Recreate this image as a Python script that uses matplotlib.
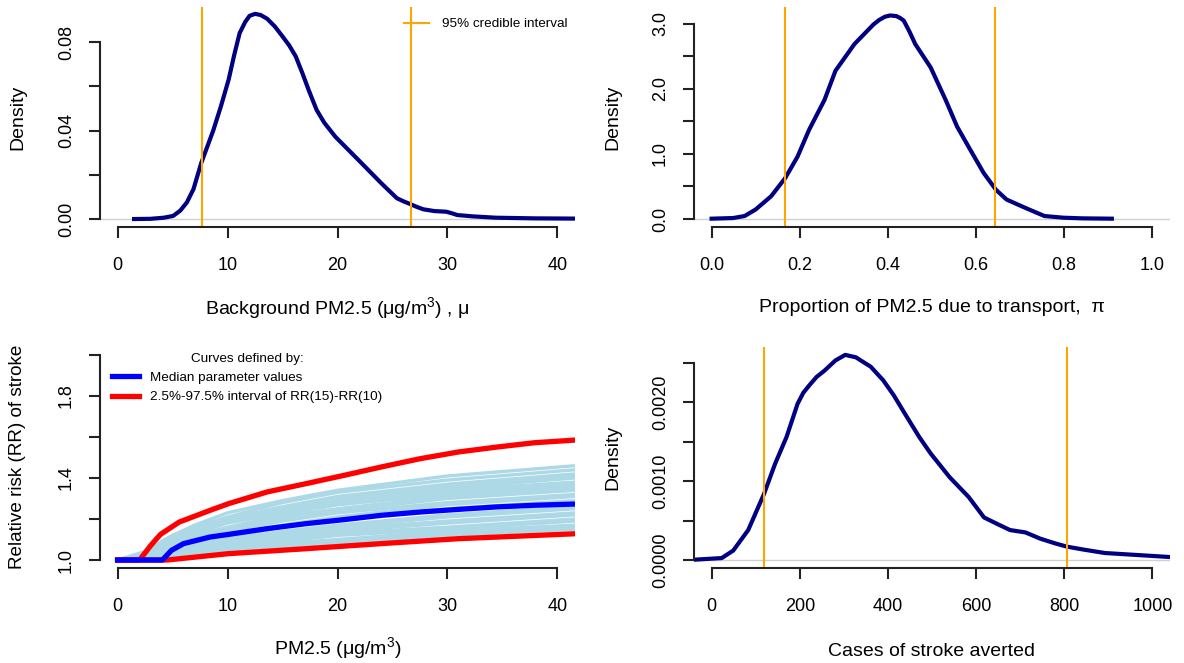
import matplotlib
matplotlib.use("Agg")
import matplotlib.pyplot as plt
from matplotlib.ticker import FixedLocator, FixedFormatter

plt.rcParams['font.family'] = ['Liberation Sans', 'DejaVu Sans']
plt.rcParams['mathtext.fontset'] = 'custom'
plt.rcParams['mathtext.rm'] = 'Liberation Sans'
plt.rcParams['mathtext.it'] = 'Liberation Sans:italic'

# ---------------- data ----------------
# Panel 1: background PM2.5 posterior density
bg_x = [1.5, 3.0, 4.2, 5.05, 5.7, 6.3, 6.9, 7.6, 8.7, 9.4, 10.1, 10.6, 11.1, 11.6, 12.0, 12.5,
        13.0, 13.6, 14.3, 15.0, 15.6, 16.2, 16.8, 17.4, 18.1, 18.8, 19.8, 21.9, 24.0, 25.4,
        26.0, 26.6, 27.2, 27.8, 28.8, 29.9, 30.4, 30.9, 32.3, 34.4, 38.0, 41.6]
bg_d = [0.0, 0.0001, 0.0006, 0.0014, 0.0038, 0.0075, 0.0135, 0.0252, 0.040, 0.051, 0.063,
        0.074, 0.084, 0.089, 0.0918, 0.0927, 0.0922, 0.0905, 0.0870, 0.0825, 0.0785, 0.0735,
        0.066, 0.058, 0.0493, 0.0435, 0.0372, 0.0267, 0.0161, 0.0094, 0.0080, 0.0068, 0.0055,
        0.0044, 0.0036, 0.0033, 0.0026, 0.0018, 0.0012, 0.0006, 0.0003, 0.0002]
bg_ci = [7.7, 26.7]

# Panel 2: proportion due to transport
tp_x = [0.0, 0.049, 0.075, 0.10, 0.135, 0.167, 0.195, 0.221, 0.256, 0.281, 0.324, 0.367, 0.38,
        0.393, 0.405, 0.419, 0.428, 0.436, 0.449, 0.462, 0.497, 0.531, 0.557, 0.583, 0.617,
        0.645, 0.669, 0.712, 0.755, 0.798, 0.841, 0.908]
tp_d = [0.005, 0.015, 0.046, 0.147, 0.35, 0.63, 0.96, 1.37, 1.83, 2.28, 2.69, 2.99, 3.06,
        3.11, 3.13, 3.12, 3.09, 3.05, 2.88, 2.69, 2.33, 1.83, 1.42, 1.11, 0.71, 0.45, 0.30,
        0.17, 0.046, 0.02, 0.01, 0.005]
tp_ci = [0.167, 0.644]

# Panel 3: relative risk curves
rr_x = [0, 3, 4, 5, 7, 10, 15, 20, 30, 41.6]
rr_sample = [
    [1.0, 1.04, 1.09, 1.12, 1.17, 1.23, 1.29, 1.34, 1.41, 1.46],
    [1.0, 1.03, 1.08, 1.11, 1.16, 1.21, 1.28, 1.33, 1.39, 1.44],
    [1.0, 1.02, 1.07, 1.10, 1.15, 1.20, 1.26, 1.31, 1.37, 1.42],
    [1.0, 1.00, 1.06, 1.10, 1.15, 1.19, 1.25, 1.30, 1.36, 1.41],
    [1.0, 1.01, 1.05, 1.09, 1.14, 1.19, 1.25, 1.29, 1.35, 1.40],
    [1.0, 1.00, 1.05, 1.08, 1.13, 1.18, 1.23, 1.28, 1.34, 1.38],
    [1.0, 1.00, 1.04, 1.08, 1.12, 1.16, 1.22, 1.27, 1.33, 1.37],
    [1.0, 1.05, 1.09, 1.12, 1.16, 1.20, 1.24, 1.27, 1.32, 1.36],
    [1.0, 1.00, 1.04, 1.07, 1.11, 1.15, 1.21, 1.25, 1.31, 1.35],
    [1.0, 1.00, 1.03, 1.06, 1.10, 1.14, 1.20, 1.24, 1.30, 1.34],
    [1.0, 1.00, 1.03, 1.06, 1.10, 1.14, 1.19, 1.23, 1.28, 1.32],
    [1.0, 1.00, 1.02, 1.05, 1.08, 1.12, 1.17, 1.21, 1.27, 1.31],
    [1.0, 1.00, 1.02, 1.05, 1.08, 1.11, 1.16, 1.20, 1.25, 1.29],
    [1.0, 1.00, 1.01, 1.04, 1.07, 1.10, 1.14, 1.17, 1.22, 1.26],
    [1.0, 1.00, 1.01, 1.04, 1.06, 1.09, 1.13, 1.16, 1.21, 1.25],
    [1.0, 1.00, 1.00, 1.03, 1.05, 1.08, 1.12, 1.15, 1.19, 1.23],
    [1.0, 1.00, 1.00, 1.02, 1.05, 1.07, 1.11, 1.14, 1.18, 1.22],
    [1.0, 1.00, 1.00, 1.02, 1.04, 1.06, 1.10, 1.13, 1.16, 1.20],
    [1.0, 1.00, 1.00, 1.02, 1.04, 1.06, 1.09, 1.12, 1.15, 1.19],
    [1.0, 1.00, 1.00, 1.01, 1.03, 1.05, 1.08, 1.10, 1.14, 1.17],
    [1.0, 1.00, 1.00, 1.01, 1.03, 1.04, 1.07, 1.09, 1.13, 1.16],
    [1.0, 1.00, 1.00, 1.01, 1.02, 1.04, 1.06, 1.08, 1.12, 1.15],
]
rr_up_x = [0, 2.0, 3.0, 3.9, 5.6, 8.4, 10.1, 13.6, 17.1, 20.6, 24.0, 27.5, 31.0, 34.5, 37.9, 41.6]
rr_up = [1.0, 1.0, 1.07, 1.125, 1.185, 1.242, 1.275, 1.332, 1.372, 1.413, 1.454, 1.494, 1.527,
         1.551, 1.572, 1.585]
rr_med_x = [0, 4.07, 4.9, 6.0, 8.4, 10.1, 13.6, 17.1, 20.6, 24.0, 27.5, 31.0, 34.5, 37.9, 41.6]
rr_med = [1.0, 1.0, 1.047, 1.08, 1.112, 1.125, 1.153, 1.177, 1.197, 1.218, 1.234, 1.247, 1.259,
          1.267, 1.273]
rr_lo_x = [0, 4.5, 10.1, 17.1, 24.0, 31.0, 41.6]
rr_lo = [1.0, 1.0, 1.031, 1.055, 1.08, 1.104, 1.128]

# Panel 4: cases of stroke averted
cs_x = [-40, 23, 49, 83, 119, 144, 170, 195, 208, 221, 238, 256, 281, 303, 327, 361, 389, 413,
        439, 471, 497, 540, 583, 618, 647, 677, 712, 746, 780, 806, 841, 892, 953, 1040]
cs_d = [0.000004, 0.000025, 0.00012, 0.00038, 0.00084, 0.00122, 0.00156, 0.00198, 0.00212,
        0.00221, 0.00232, 0.0024, 0.00253, 0.0026, 0.00257, 0.00245, 0.00228, 0.00209, 0.00185,
        0.00156, 0.00135, 0.00105, 0.0008, 0.00054, 0.00046, 0.00038, 0.00035, 0.00027,
        0.00021, 0.00017, 0.000135, 0.000089, 0.000068, 0.000038]
cs_ci = [119, 806]

# ---------------- figure ----------------
W, H = 1184, 663
fig = plt.figure(figsize=(W / 100, H / 100), dpi=100)


def rect(left, top, right, bottom):
    return [left / W, 1 - bottom / H, (right - left) / W, (bottom - top) / H]


NAVY = '#000080'
ORANGE = '#FFA500'
AXC = '#222222'
FS = 13
LFS = 14


def style(ax, xt, xl, yt, yl, ylab_show):
    for s in ('top', 'right'):
        ax.spines[s].set_visible(False)
    for s in ('left', 'bottom'):
        ax.spines[s].set_color(AXC)
        ax.spines[s].set_linewidth(1.5)
    ax.spines['bottom'].set_bounds(xt[0], xt[-1])
    ax.spines['left'].set_bounds(yt[0], yt[-1])
    ax.xaxis.set_major_locator(FixedLocator(xt))
    ax.xaxis.set_major_formatter(FixedFormatter(xl))
    ax.yaxis.set_major_locator(FixedLocator(yt))
    ax.yaxis.set_major_formatter(FixedFormatter([l if s else '' for l, s in zip(yl, ylab_show)]))
    ax.tick_params(axis='both', length=8, width=1.5, color=AXC, labelsize=FS, labelcolor='black')
    ax.tick_params(axis='x', pad=13.5)
    ax.tick_params(axis='y', pad=10)
    for lab in ax.get_yticklabels():
        lab.set_rotation(90)
        lab.set_va('center')


# Panel 1
ax1 = fig.add_axes(rect(100, 7, 575, 227))
ax1.set_xlim(-1.6, 41.6)
ax1.set_ylim(-0.0036, 0.0958)
ax1.axhline(0, color='#D0D0D0', lw=1)
ax1.plot(bg_x, bg_d, color=NAVY, lw=3)
for v in bg_ci:
    ax1.axvline(v, color=ORANGE, lw=1.5, label='95% credible interval' if v == bg_ci[0] else None)
style(ax1, [0, 10, 20, 30, 40], ['0', '10', '20', '30', '40'],
      [0, 0.02, 0.04, 0.06, 0.08], ['0.00', '0.02', '0.04', '0.06', '0.08'],
      [1, 0, 1, 0, 1])
ax1.legend(loc='center left', bbox_to_anchor=(404 / W, 1 - 24 / H), bbox_transform=fig.transFigure,
           frameon=False, fontsize=9.7, handlelength=1.85, handletextpad=0.95, borderpad=0,
           borderaxespad=0)

# Panel 2
ax2 = fig.add_axes(rect(694, 7, 1170, 227))
ax2.set_xlim(-0.04, 1.04)
ax2.set_ylim(-0.123, 3.26)
ax2.axhline(0, color='#D0D0D0', lw=1)
ax2.plot(tp_x, tp_d, color=NAVY, lw=3)
for v in tp_ci:
    ax2.axvline(v, color=ORANGE, lw=1.5)
style(ax2, [0, 0.2, 0.4, 0.6, 0.8, 1.0], ['0.0', '0.2', '0.4', '0.6', '0.8', '1.0'],
      [0, 0.5, 1.0, 1.5, 2.0, 2.5, 3.0], ['0.0', '0.5', '1.0', '1.5', '2.0', '2.5', '3.0'],
      [1, 0, 1, 0, 1, 0, 1])

# Panel 3
ax3 = fig.add_axes(rect(100, 347, 575, 568))
ax3.set_xlim(-1.6, 41.6)
ax3.set_ylim(0.961, 2.039)
for curve in rr_sample:
    ax3.plot(rr_x, curve, color='#ADD8E6', lw=2.4, solid_capstyle='butt')
ax3.plot(rr_up_x, rr_up, color='red', lw=3.8, label='2.5%-97.5% interval of RR(15)-RR(10)')
ax3.plot(rr_lo_x, rr_lo, color='red', lw=3.8)
ax3.plot(rr_med_x, rr_med, color='blue', lw=3.8, label='Median parameter values')
style(ax3, [0, 10, 20, 30, 40], ['0', '10', '20', '30', '40'],
      [1.0, 1.2, 1.4, 1.6, 1.8, 2.0], ['1.0', '1.2', '1.4', '1.6', '1.8', '2.0'],
      [1, 0, 1, 0, 1, 0])
h, l = ax3.get_legend_handles_labels()
leg = ax3.legend([h[1], h[0]], [l[1], l[0]], loc='upper left',
                 bbox_to_anchor=(112 / W, 1 - 353 / H), bbox_transform=fig.transFigure,
                 frameon=False, fontsize=9.7, title='Curves defined by:', title_fontsize=9.7,
                 handlelength=2.0, handletextpad=0.85, borderpad=0, borderaxespad=0,
                 labelspacing=0.5)

# Panel 4
ax4 = fig.add_axes(rect(694, 347, 1170, 568))
ax4.set_xlim(-40, 1040)
ax4.set_ylim(-0.000101, 0.0027)
ax4.axhline(0, color='#D0D0D0', lw=1)
ax4.plot(cs_x, cs_d, color=NAVY, lw=3)
for v in cs_ci:
    ax4.axvline(v, color=ORANGE, lw=1.5)
style(ax4, [0, 200, 400, 600, 800, 1000], ['0', '200', '400', '600', '800', '1000'],
      [0, 0.0005, 0.0010, 0.0015, 0.0020, 0.0025],
      ['0.0000', '0.0005', '0.0010', '0.0015', '0.0020', '0.0025'],
      [1, 0, 1, 0, 1, 0])

# Axis titles
fig.text(337.5 / W, 1 - 308 / H, 'Background PM2.5 (\u03bcg/m$^3$) , \u03bc', ha='center', va='center', fontsize=LFS)
fig.text(932 / W, 1 - 308 / H, 'Proportion of PM2.5 due to transport,  \u03c0', ha='center', va='center', fontsize=LFS)
fig.text(337.5 / W, 1 - 648 / H, 'PM2.5 (\u03bcg/m$^3$)', ha='center', va='center', fontsize=LFS)
fig.text(932 / W, 1 - 651 / H, 'Cases of stroke averted', ha='center', va='center', fontsize=LFS)
fig.text(18 / W, 1 - 117 / H, 'Density', rotation=90, ha='center', va='center', fontsize=LFS)
fig.text(613 / W, 1 - 117 / H, 'Density', rotation=90, ha='center', va='center', fontsize=LFS)
fig.text(18 / W, 1 - 457 / H, 'Relative risk (RR) of stroke', rotation=90, ha='center', va='center', fontsize=13.6)
fig.text(613 / W, 1 - 457 / H, 'Density', rotation=90, ha='center', va='center', fontsize=LFS)

fig.savefig('out.png', dpi=100)
